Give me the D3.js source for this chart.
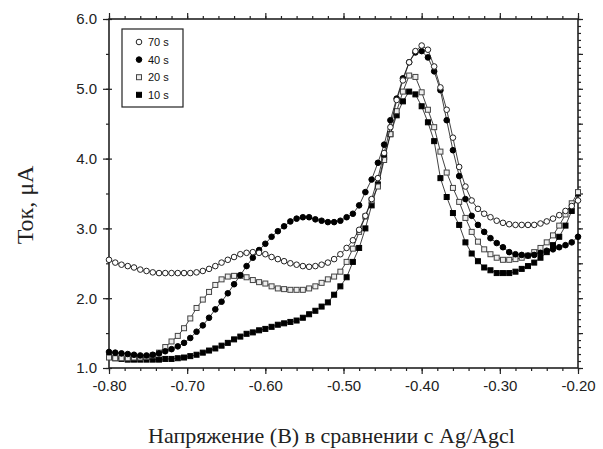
<!DOCTYPE html>
<meta charset="utf-8">
<style>
body { margin: 0; background: #fff; }
.tick text { font-family: "Liberation Sans", Arial, sans-serif; font-size: 15px; fill: #222; }
.title { font-family: "Liberation Serif", "Times New Roman", serif; fill: #222; }
.legend text { font-family: "Liberation Sans", Arial, sans-serif; font-size: 11px; fill: #111; }
</style>
<svg width="603" height="449"></svg>
<script src="https://cdn.jsdelivr.net/npm/d3@7"></script>
<script>
// potential grid (V vs Ag/AgCl), one point every 8 mV
var potential = d3.range(0, 76).map(i => -0.8 + i * 0.008);

var s70 = [2.55,2.51,2.48,2.46,2.44,2.41,2.39,2.37,2.36,2.36,2.36,2.36,2.36,2.36,2.37,2.39,
  2.42,2.46,2.51,2.55,2.59,2.63,2.65,2.66,2.65,2.63,2.59,2.56,2.53,2.50,2.48,2.46,2.45,2.46,
  2.48,2.51,2.56,2.63,2.72,2.83,2.98,3.18,3.42,3.72,4.08,4.45,4.84,5.12,5.38,5.54,5.62,5.56,
  5.32,5.02,4.70,4.30,3.88,3.60,3.40,3.28,3.21,3.16,3.11,3.08,3.06,3.05,3.05,3.05,3.05,3.07,
  3.10,3.14,3.19,3.25,3.32,3.40];
var s40 = [1.23,1.22,1.21,1.20,1.19,1.18,1.18,1.19,1.21,1.24,1.27,1.31,1.36,1.43,1.52,1.61,
  1.72,1.84,1.95,2.07,2.20,2.33,2.46,2.58,2.69,2.78,2.88,2.96,3.03,3.10,3.14,3.16,3.16,3.13,
  3.11,3.09,3.09,3.11,3.16,3.21,3.33,3.52,3.70,3.94,4.20,4.55,4.86,5.15,5.38,5.52,5.54,5.45,
  5.25,4.98,4.55,4.12,3.75,3.42,3.18,3.05,2.95,2.86,2.79,2.73,2.66,2.63,2.62,2.61,2.62,2.65,
  2.68,2.70,2.73,2.76,2.80,2.88];
var s20 = [1.15,1.14,1.14,1.14,1.15,1.15,1.16,1.18,1.22,1.30,1.38,1.46,1.57,1.71,1.86,1.98,
  2.09,2.19,2.27,2.31,2.32,2.32,2.30,2.26,2.23,2.21,2.17,2.14,2.13,2.12,2.12,2.12,2.14,2.17,
  2.22,2.27,2.31,2.38,2.52,2.71,2.95,3.17,3.40,3.60,3.98,4.35,4.68,4.96,5.19,5.17,4.95,4.70,
  4.45,4.10,3.80,3.58,3.38,3.15,2.95,2.81,2.70,2.63,2.58,2.55,2.55,2.56,2.58,2.61,2.66,2.72,
  2.80,2.90,3.04,3.20,3.36,3.52];
var s10 = [1.16,1.14,1.13,1.12,1.12,1.12,1.12,1.12,1.12,1.13,1.13,1.14,1.15,1.17,1.19,1.22,
  1.25,1.28,1.32,1.36,1.41,1.45,1.49,1.51,1.54,1.56,1.59,1.62,1.64,1.66,1.68,1.72,1.77,1.82,
  1.88,1.94,2.05,2.17,2.30,2.52,2.72,3.00,3.33,3.63,4.02,4.35,4.62,4.82,4.96,4.92,4.75,4.52,
  4.25,3.72,3.45,3.22,3.05,2.80,2.64,2.53,2.44,2.40,2.36,2.36,2.36,2.38,2.42,2.46,2.51,2.58,
  2.66,2.76,2.88,3.04,3.25,3.50];

var seriesNames = ["70 s", "40 s", "20 s", "10 s"];
var xTicks = [-0.8, -0.7, -0.6, -0.5, -0.4, -0.3, -0.2];
var yTicks = [1, 2, 3, 4, 5, 6];

var svg = d3.select("svg"),
    plotLeft = 109, plotRight = 578, plotTop = 19, plotBottom = 368;

var x = d3.scaleLinear().domain([-0.8, -0.2]).range([plotLeft, plotRight]);
var y = d3.scaleLinear().domain([1, 6]).range([plotBottom, plotTop]);

var fmt = d => d.toFixed(2);

// minor ticks
var xMinor = d3.range(-0.8, -0.1999, 0.02);
var yMinorL = d3.range(1, 6.001, 0.5);
var yMinorR = d3.range(1, 6.001, 0.1);

function tickStyle(g) {
  g.select(".domain").remove();
  g.selectAll("line").attr("stroke", "#222").attr("stroke-width", 1.2);
}

svg.append("g").attr("transform", "translate(0," + plotBottom + ")")
  .call(d3.axisBottom(x).tickValues(xMinor).tickSize(3).tickFormat(""))
  .call(tickStyle);
svg.append("g").attr("transform", "translate(0," + plotBottom + ")")
  .call(d3.axisBottom(x).tickValues(xTicks).tickSize(6).tickPadding(6).tickFormat(fmt))
  .call(tickStyle);
svg.append("g").attr("transform", "translate(0," + plotTop + ")")
  .call(d3.axisTop(x).tickValues(xMinor).tickSize(3).tickFormat(""))
  .call(tickStyle);
svg.append("g").attr("transform", "translate(0," + plotTop + ")")
  .call(d3.axisTop(x).tickValues(xTicks).tickSize(6).tickFormat(""))
  .call(tickStyle);

svg.append("g").attr("transform", "translate(" + plotLeft + ",0)")
  .call(d3.axisLeft(y).tickValues(yMinorL).tickSize(3).tickFormat(""))
  .call(tickStyle);
var yAx = svg.append("g").attr("transform", "translate(" + plotLeft + ",0)")
  .call(d3.axisLeft(y).tickValues(yTicks).tickSize(6).tickPadding(6).tickFormat(d => d.toFixed(1)))
  .call(tickStyle);
yAx.selectAll("line").attr("x2", -6).attr("x1", 3);

svg.append("g").attr("transform", "translate(" + plotRight + ",0)")
  .call(d3.axisRight(y).tickValues(yMinorR).tickSize(3).tickFormat(""))
  .call(tickStyle);
svg.append("g").attr("transform", "translate(" + plotRight + ",0)")
  .call(d3.axisRight(y).tickValues(yMinorL).tickSize(5).tickFormat(""))
  .call(tickStyle);

// frame
svg.append("rect")
  .attr("x", plotLeft).attr("y", plotTop)
  .attr("width", plotRight - plotLeft).attr("height", plotBottom - plotTop)
  .attr("fill", "none").attr("stroke", "#222").attr("stroke-width", 1.6);

var series = [
  {name: "10 s", values: s10, shape: "square", fill: "#000", stroke: "#000"},
  {name: "20 s", values: s20, shape: "square", fill: "#eee", stroke: "#444"},
  {name: "40 s", values: s40, shape: "circle", fill: "#000", stroke: "#000"},
  {name: "70 s", values: s70, shape: "circle", fill: "#fff", stroke: "#222"}
];

var line = d3.line()
  .x((d, i) => x(potential[i]))
  .y(d => y(d));

function drawMarker(g, shape, fill, stroke) {
  if (shape == "circle") {
    g.append("circle").attr("r", 2.8)
      .attr("fill", fill).attr("stroke", stroke).attr("stroke-width", 1);
  } else {
    g.append("rect").attr("x", -2.5).attr("y", -2.5)
      .attr("width", 5).attr("height", 5)
      .attr("fill", fill).attr("stroke", stroke).attr("stroke-width", 1);
  }
}

series.forEach(s => {
  svg.append("path")
    .datum(s.values)
    .attr("d", line)
    .attr("fill", "none")
    .attr("stroke", "#111")
    .attr("stroke-width", 0.8);
  svg.append("g").selectAll("g")
    .data(s.values)
    .enter().append("g")
      .attr("transform", (d, i) => "translate(" + x(potential[i]) + "," + y(d) + ")")
      .each(function() { drawMarker(d3.select(this), s.shape, s.fill, s.stroke); });
});

// legend
var legend = svg.append("g").attr("class", "legend");
legend.append("rect")
  .attr("x", 122).attr("y", 29).attr("width", 61).attr("height", 78)
  .attr("fill", "#fff").attr("stroke", "#222").attr("stroke-width", 1.2);
var legendItems = [series[3], series[2], series[1], series[0]];
legendItems.forEach((s, i) => {
  var g = legend.append("g").attr("transform", "translate(139," + (42 + i * 17.6) + ")");
  drawMarker(g, s.shape, s.fill, s.stroke);
  g.append("text").attr("x", 9).attr("y", 4).text(seriesNames[i]);
});

// titles
svg.append("text").attr("class", "title")
  .attr("x", (plotLeft + plotRight) / 2 - 12).attr("y", 443)
  .attr("text-anchor", "middle").attr("font-size", 22)
  .text("Напряжение (В) в сравнении с Ag/Agcl");
svg.append("text").attr("class", "title")
  .attr("transform", "translate(33,205) rotate(-90)")
  .attr("text-anchor", "middle").attr("font-size", 24)
  .text("Ток, μA");
</script>
